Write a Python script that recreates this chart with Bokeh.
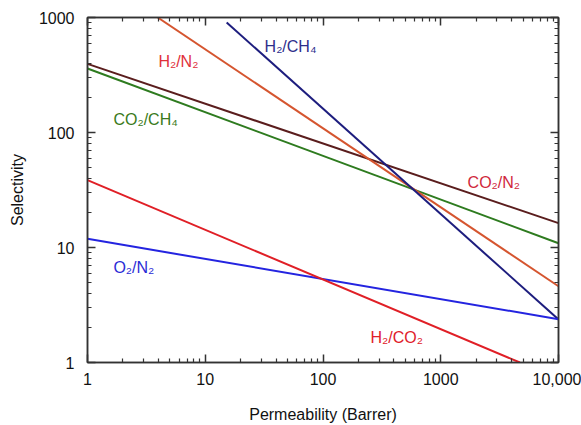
from bokeh.plotting import figure
from bokeh.models import LogAxis, FixedTicker
from bokeh.core.properties import value
from bokeh.embed import file_html
from bokeh.resources import INLINE

# --- data (Robeson-type upper bounds) ---
series_names = ["CO2/N2", "CO2/CH4", "H2/N2", "H2/CH4", "O2/N2", "H2/CO2"]
series_x = [[1, 10000], [1, 10000], [3.95, 10000], [15.2, 10000], [1, 10000], [1, 4700]]
series_y = [[395, 16.3], [360, 10.9], [1000, 4.6], [905, 2.37], [11.9, 2.38], [38.5, 1.0]]
series_colors = ["#5a1d1d", "#2e7b1f", "#d5552f", "#1d1d7e", "#2424e0", "#e01f26"]

label_texts = ["H₂/N₂", "H₂/CH₄", "CO₂/CH₄", "CO₂/N₂", "O₂/N₂", "H₂/CO₂"]
label_x = [4.0, 31.9, 1.66, 1690, 1.66, 253]
label_y = [414, 560, 130, 36.7, 6.7, 1.65]
label_colors = ["#e0303a", "#2e2e8c", "#3a7a20", "#d0283c", "#2b2bd6", "#e0202a"]

x_major = [1, 10, 100, 1000, 10000]
x_tick_labels = ["1", "10", "100", "1000", "10,000"]
y_major = [1, 10, 100, 1000]
y_tick_labels = ["1", "10", "100", "1000"]

FONT = "Liberation Sans"

p = figure(width=581, height=425, x_axis_type="log", y_axis_type="log",
           x_range=(1, 10000), y_range=(1, 1000),
           output_backend="svg", toolbar_location=None,
           min_border_left=87, min_border_right=23,
           min_border_top=17, min_border_bottom=63)
p.xgrid.visible = False
p.ygrid.visible = False
p.outline_line_color = "#333333"
p.outline_line_width = 1.5

x_minor = [m * 10 ** d for d in range(4) for m in range(2, 10)]
y_minor = [m * 10 ** d for d in range(3) for m in range(2, 10)]

def style_axis(ax, major, minor, labels, show_labels):
    ax.ticker = FixedTicker(ticks=major, minor_ticks=minor)
    ax.major_tick_in = 8
    ax.major_tick_out = 0
    ax.minor_tick_in = 4
    ax.minor_tick_out = 0
    ax.axis_line_color = "#333333"
    ax.axis_line_width = 1.5
    ax.major_tick_line_color = "#333333"
    ax.major_tick_line_width = 1.5
    ax.minor_tick_line_color = "#333333"
    ax.minor_tick_line_width = 1.2
    if show_labels:
        ax.major_label_overrides = {t: l for t, l in zip(major, labels)}
        ax.major_label_text_font = FONT
        ax.major_label_text_font_size = "16px"
        ax.major_label_text_color = "#111111"
    else:
        ax.major_label_text_font_size = "0px"
        ax.major_label_text_color = None

style_axis(p.xaxis[0], x_major, x_minor, x_tick_labels, True)
style_axis(p.yaxis[0], y_major, y_minor, y_tick_labels, True)
p.xaxis[0].major_label_standoff = 10
p.yaxis[0].major_label_standoff = 13

p.xaxis.axis_label = "Permeability (Barrer)"
p.yaxis.axis_label = "Selectivity"
for ax in (p.xaxis[0], p.yaxis[0]):
    ax.axis_label_text_font = FONT
    ax.axis_label_text_font_size = "16px"
    ax.axis_label_text_font_style = "normal"
    ax.axis_label_text_color = "#111111"
p.xaxis[0].axis_label_standoff = 18
p.yaxis[0].axis_label_standoff = 10

top = LogAxis()
style_axis(top, x_major, x_minor, x_tick_labels, False)
p.add_layout(top, "above")
right = LogAxis()
style_axis(right, y_major, y_minor, y_tick_labels, False)
p.add_layout(right, "right")

for xs, ys, c in zip(series_x, series_y, series_colors):
    p.line(xs, ys, line_color=c, line_width=2)

for t, x, y, c in zip(label_texts, label_x, label_y, label_colors):
    p.text(x=[x], y=[y], text=[t], text_color=c, text_font=value(FONT),
           text_font_size="16px", text_align="left", text_baseline="alphabetic")

open("out.html", "w").write(file_html(p, INLINE))
